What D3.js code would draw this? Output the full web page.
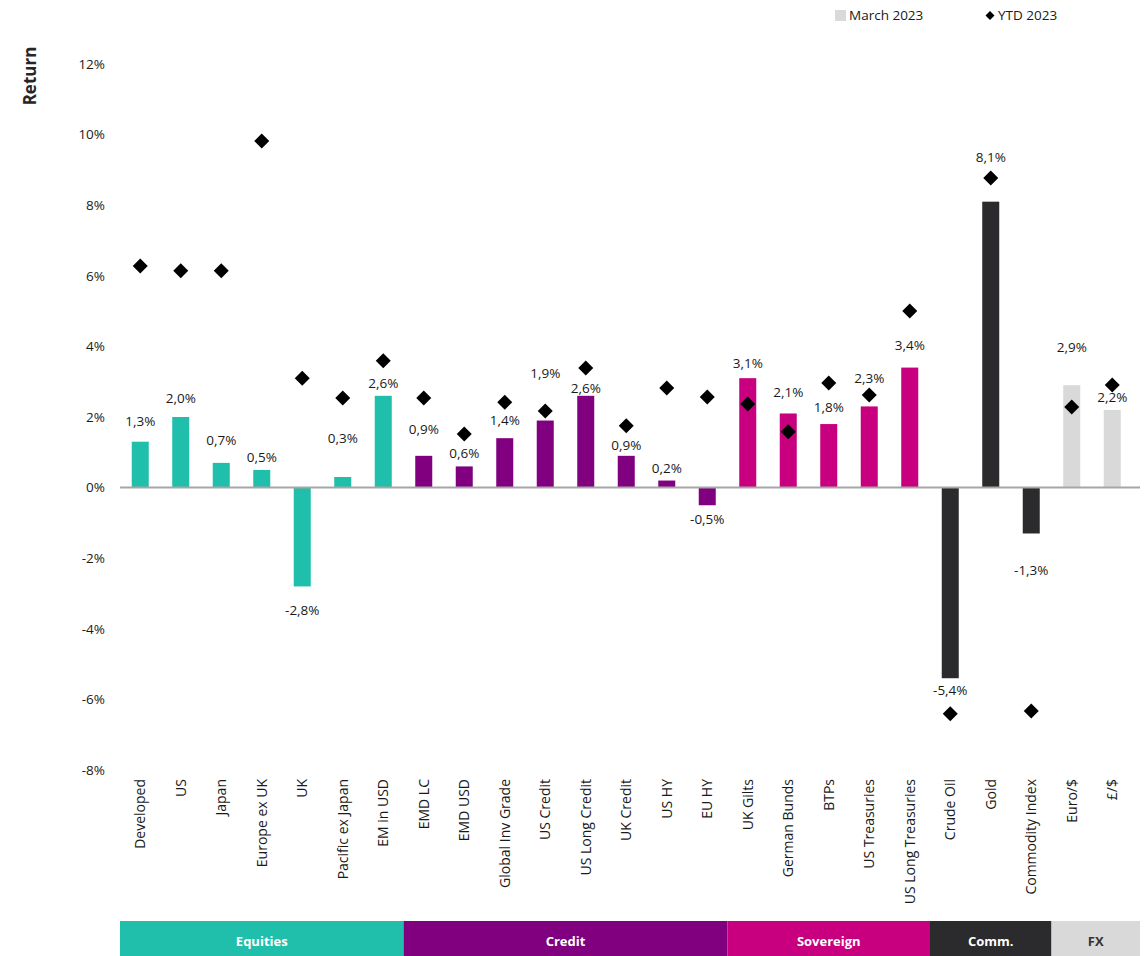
<!DOCTYPE html>
<html><head><meta charset="utf-8">
<script src="https://cdn.jsdelivr.net/npm/d3@7/dist/d3.min.js"></script>
<style>body{margin:0;background:#fff}svg{display:block;font-family:"Open Sans",sans-serif}</style>
</head><body><svg id="c" width="1148" height="956"></svg>
<script>
const categories = ["Developed","US","Japan","Europe ex UK","UK","Pacific ex Japan","EM in USD","EMD LC","EMD USD","Global Inv Grade","US Credit","US Long Credit","UK Credit","US HY","EU HY","UK Gilts","German Bunds","BTPs","US Treasuries","US Long Treasuries","Crude Oil","Gold","Commodity Index","Euro/$","£/$"];
const march2023 = [1.3,2.0,0.7,0.5,-2.8,0.3,2.6,0.9,0.6,1.4,1.9,2.6,0.9,0.2,-0.5,3.1,2.1,1.8,2.3,3.4,-5.4,8.1,-1.3,2.9,2.2];
const ytd2023 = [6.28,6.14,6.14,9.82,3.10,2.54,3.59,2.54,1.52,2.42,2.17,3.39,1.75,2.82,2.57,2.37,1.58,2.96,2.62,5.00,-6.41,8.77,-6.33,2.28,2.91];
const groups = ["Equities","Credit","Sovereign","Comm.","FX"];
const groupSizes = [7,8,5,3,2];
const yTicks = [-8,-6,-4,-2,0,2,4,6,8,10,12];

// layout/styling (not data)
const groupColors = ["#1fbfab","#800080","#c8007f","#2b2b2d","#d9d9d9"];
const groupTextColors = ["#fff","#fff","#fff","#fff","#333"];
const labelGap = [20,19,23,13,24,39,13,27,13,18,47,8,11,12,14,15,21,17,28,22,12,44,37,38,13];

const svg = d3.select("#c");
const x = d3.scaleBand().domain(categories).range([120,1132.5]).paddingInner(0.58).paddingOuter(0.29);
const y = d3.scaleLinear().domain([-8,12]).range([770,64]);
const groupOf = [];
groupSizes.forEach((n,g)=>{for(let i=0;i<n;i++)groupOf.push(g);});
const fmt = v => d3.format(".1f")(v).replace("\u2212","-").replace(".",",")+"%";

// y tick labels
svg.append("g").selectAll("text").data(yTicks).join("text")
  .attr("x",105).attr("y",d=>y(d)).attr("dy","0.35em").attr("text-anchor","end")
  .attr("font-size",13.5).attr("fill","#1a1a1a").text(d=>d+"%");

// axis title
svg.append("text").attr("transform","translate(36,76) rotate(-90)").attr("text-anchor","middle")
  .attr("font-size",17).attr("font-weight","bold").attr("fill","#262626").text("Return");

// bars
svg.append("g").selectAll("rect").data(categories).join("rect")
  .attr("x",d=>x(d)).attr("width",x.bandwidth())
  .attr("y",(d,i)=>y(Math.max(0,march2023[i])))
  .attr("height",(d,i)=>Math.abs(y(march2023[i])-y(0)))
  .attr("fill",(d,i)=>groupColors[groupOf[i]]);

// zero line
svg.append("line").attr("x1",120).attr("x2",1140).attr("y1",y(0)).attr("y2",y(0))
  .attr("stroke","#a6a6a6").attr("stroke-width",2);

// value labels
svg.append("g").selectAll("text").data(categories).join("text")
  .attr("x",d=>x(d)+x.bandwidth()/2)
  .attr("y",(d,i)=>march2023[i]>=0 ? y(march2023[i])-labelGap[i] : y(march2023[i])+labelGap[i])
  .attr("dy","0.35em").attr("text-anchor","middle").attr("font-size",13.5).attr("fill","#1a1a1a")
  .text((d,i)=>fmt(march2023[i]));

// diamonds
const dia = "M0,-7.5L7.5,0L0,7.5L-7.5,0Z";
svg.append("g").selectAll("path").data(categories).join("path")
  .attr("d",dia).attr("fill","#000")
  .attr("transform",(d,i)=>`translate(${x(d)+x.bandwidth()/2},${y(ytd2023[i])})`);

// category axis labels
svg.append("g").selectAll("text").data(categories).join("text")
  .attr("transform",d=>`translate(${x(d)+x.bandwidth()/2},779) rotate(-90)`)
  .attr("dy","0.35em").attr("text-anchor","end").attr("font-size",14).attr("fill","#1a1a1a").text(d=>d);

// group band
const step = x.step(), half = (step - x.bandwidth())/2;
let idx = 0;
groups.forEach((g,gi)=>{
  const first = categories[idx], last = categories[idx+groupSizes[gi]-1];
  const x0 = gi===0 ? 120 : x(first)-half;
  const x1 = gi===groups.length-1 ? 1140 : x(last)+x.bandwidth()+half;
  svg.append("rect").attr("x",x0).attr("y",921).attr("width",x1-x0).attr("height",35).attr("fill",groupColors[gi]);
  svg.append("text").attr("x",(x0+x1)/2).attr("y",941).attr("dy","0.35em").attr("text-anchor","middle")
    .attr("font-size",13).attr("font-weight","bold").attr("fill",groupTextColors[gi]).text(g);
  idx += groupSizes[gi];
});

// legend
svg.append("rect").attr("x",835).attr("y",10).attr("width",11).attr("height",11).attr("fill","#d9d9d9");
svg.append("text").attr("x",849).attr("y",15.5).attr("dy","0.35em").attr("font-size",13.5).attr("fill","#1a1a1a").text("March 2023");
svg.append("path").attr("d","M0,-4.5L4.5,0L0,4.5L-4.5,0Z").attr("transform","translate(990,15.5)").attr("fill","#000");
svg.append("text").attr("x",998).attr("y",15.5).attr("dy","0.35em").attr("font-size",13.5).attr("fill","#1a1a1a").text("YTD 2023");
</script></body></html>
